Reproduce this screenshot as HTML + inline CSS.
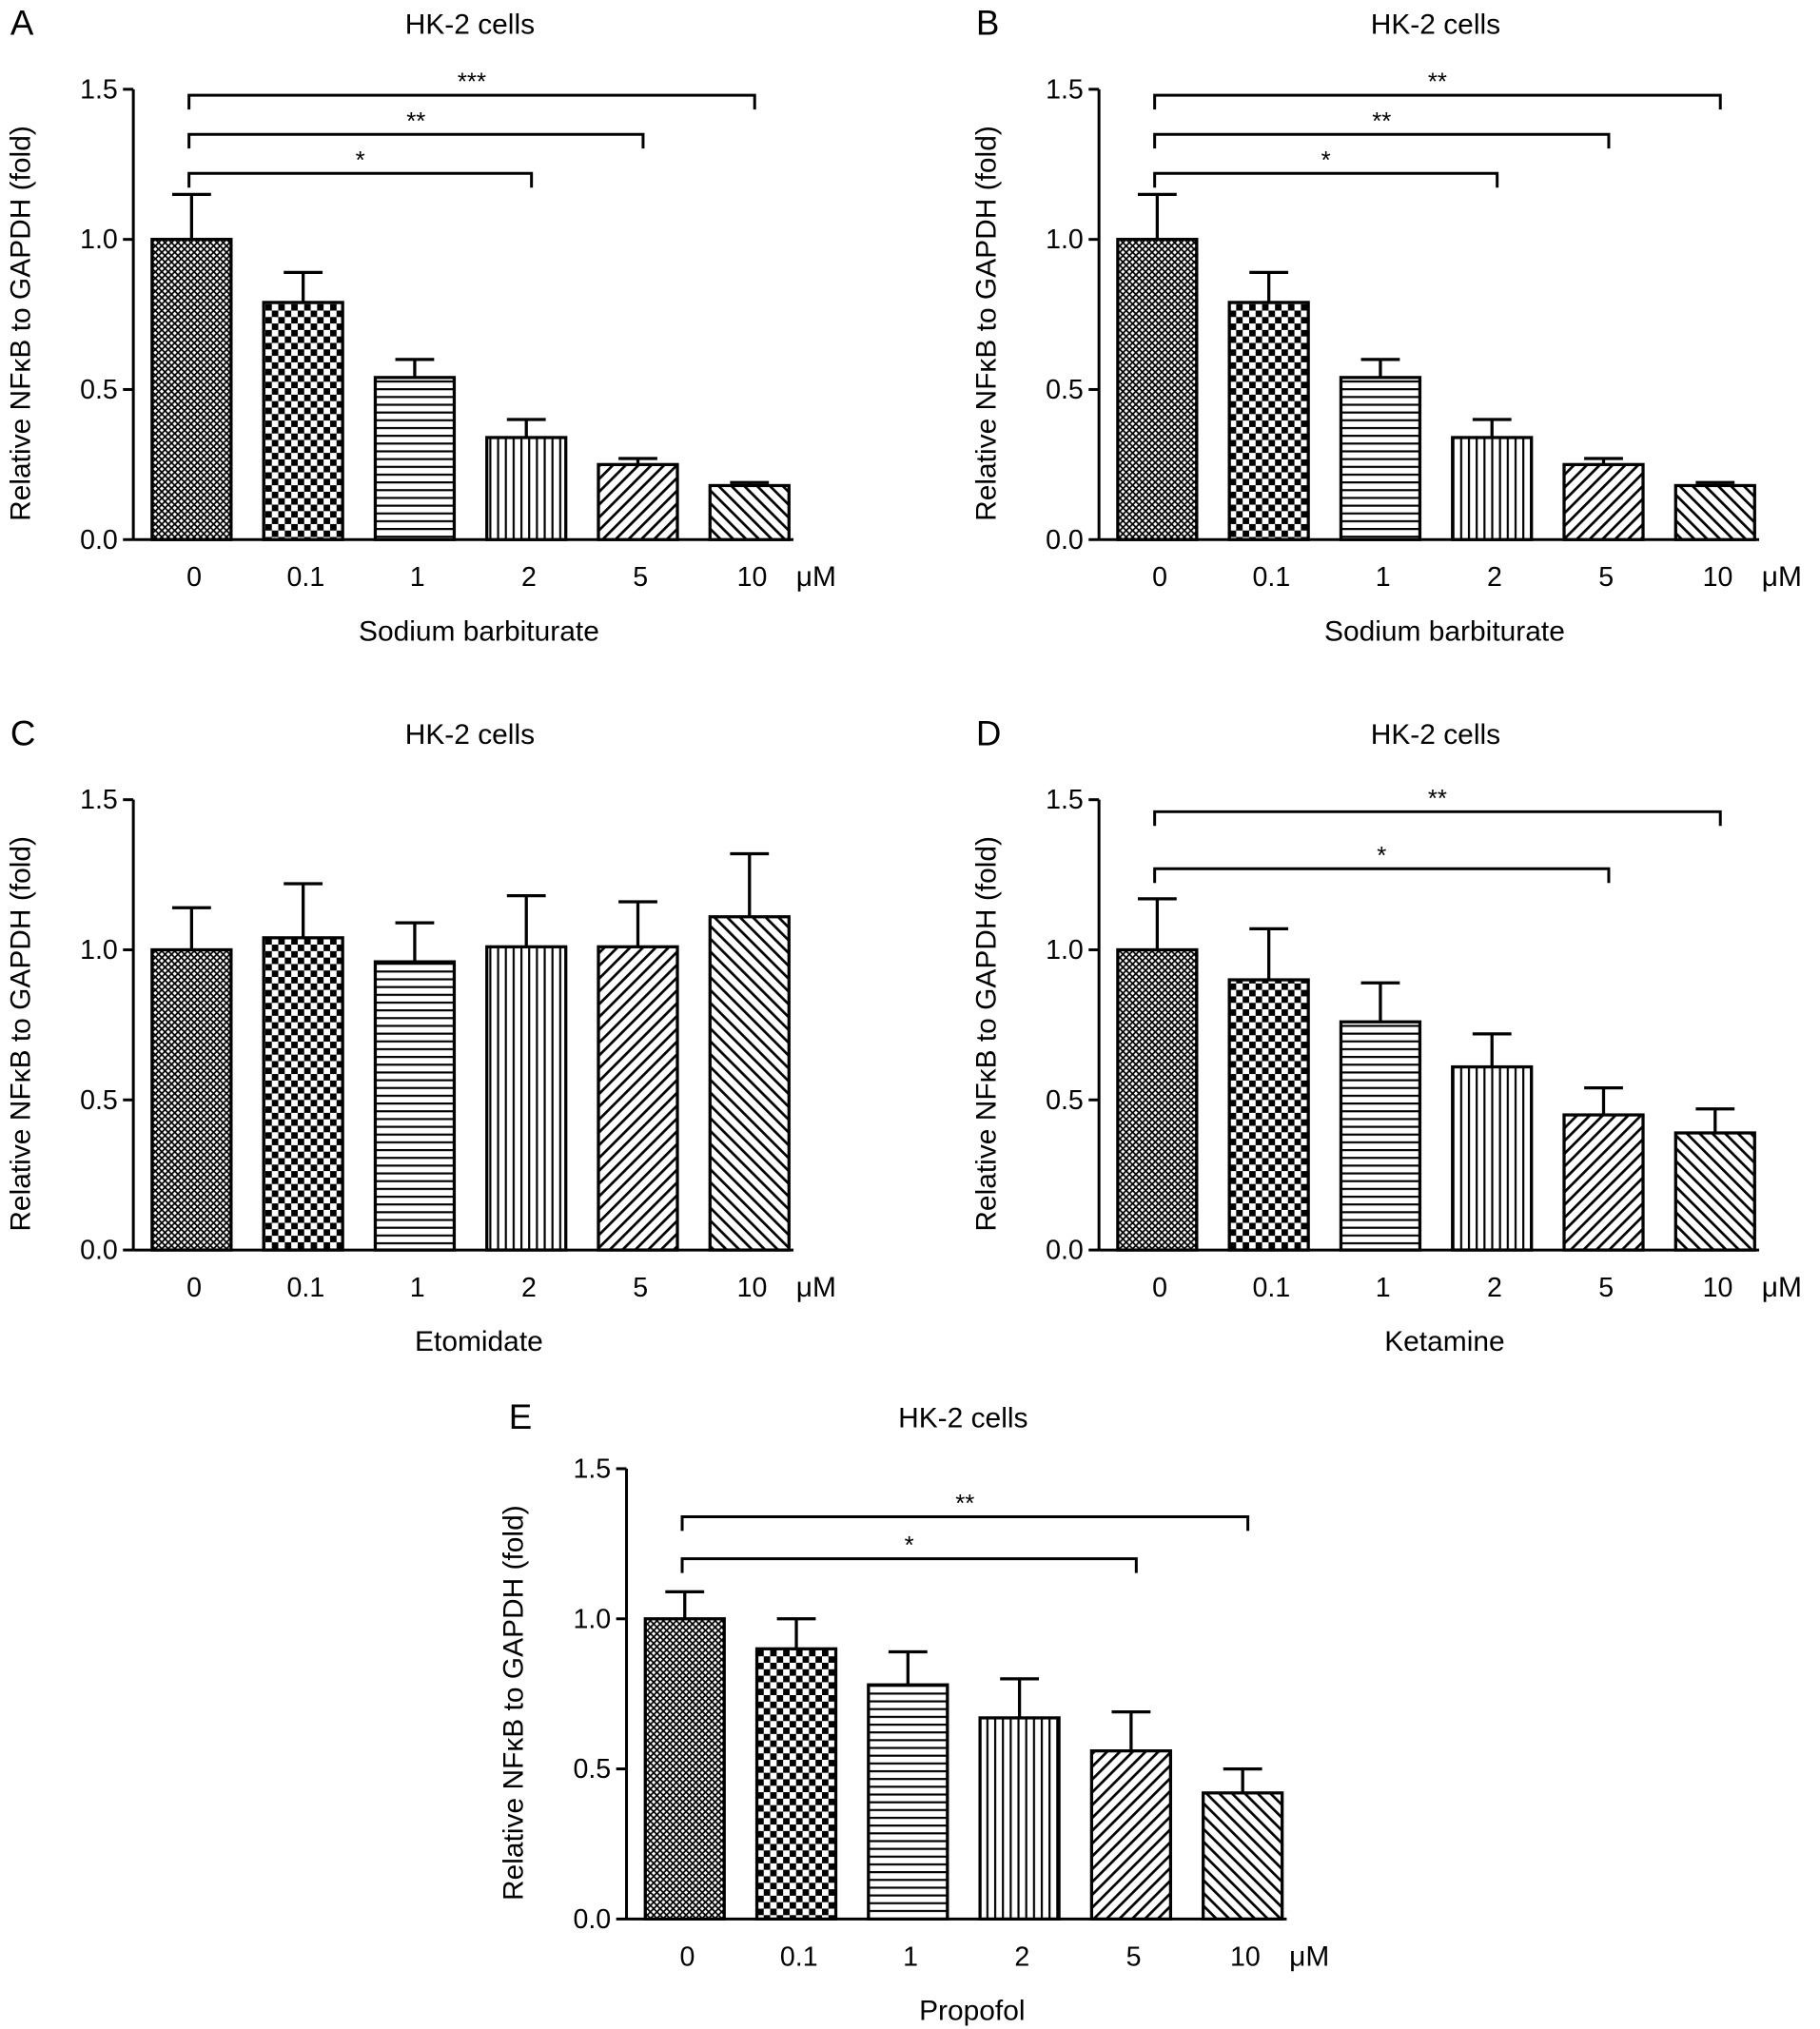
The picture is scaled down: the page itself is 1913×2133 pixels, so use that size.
<!DOCTYPE html>
<html><head><meta charset="utf-8"><style>
html,body{margin:0;padding:0;background:#fff;}
svg{display:block;font-family:"Liberation Sans",Arial,sans-serif;}
</style></head><body>
<svg id="fig" width="1913" height="2133" viewBox="0 0 1406 1568" preserveAspectRatio="none" xmlns="http://www.w3.org/2000/svg">
<defs>
<pattern id="p0" width="5" height="5" patternUnits="userSpaceOnUse"><rect width="5" height="5" fill="#fff"/><path d="M0,0L5,5M5,0L0,5" stroke="#000" stroke-width="1.3"/></pattern>
<pattern id="p1" width="10" height="10" patternUnits="userSpaceOnUse"><rect width="10" height="10" fill="#fff"/><rect width="5" height="5" fill="#000"/><rect x="5" y="5" width="5" height="5" fill="#000"/></pattern>
<pattern id="p2" width="6" height="6" patternUnits="userSpaceOnUse"><rect width="6" height="6" fill="#fff"/><rect y="0" width="6" height="1.6" fill="#000"/></pattern>
<pattern id="p3" width="6" height="6" patternUnits="userSpaceOnUse"><rect width="6" height="6" fill="#fff"/><rect x="0" width="1.6" height="6" fill="#000"/></pattern>
<pattern id="p4" width="7" height="7" patternUnits="userSpaceOnUse" patternTransform="rotate(45)"><rect width="7" height="7" fill="#fff"/><rect width="2" height="7" fill="#000"/></pattern>
<pattern id="p5" width="7" height="7" patternUnits="userSpaceOnUse" patternTransform="rotate(-45)"><rect width="7" height="7" fill="#fff"/><rect width="2" height="7" fill="#000"/></pattern>
</defs>
</svg>
<script>
const categories = ["0","0.1","1","2","5","10"];
const yTicks = [0, 0.5, 1.0, 1.5];
const yTickLabels = ["0.0","0.5","1.0","1.5"];
const valsA = [1.0,0.79,0.54,0.34,0.25,0.18];
const errA  = [0.15,0.10,0.06,0.06,0.02,0.01];
const valsB = [1.0,0.79,0.54,0.34,0.25,0.18];
const errB  = [0.15,0.10,0.06,0.06,0.02,0.01];
const valsC = [1.0,1.04,0.96,1.01,1.01,1.11];
const errC  = [0.14,0.18,0.13,0.17,0.15,0.21];
const valsD = [1.0,0.90,0.76,0.61,0.45,0.39];
const errD  = [0.17,0.17,0.13,0.11,0.09,0.08];
const valsE = [1.0,0.90,0.78,0.67,0.56,0.42];
const errE  = [0.09,0.10,0.11,0.13,0.13,0.08];
const sigA = [[3,1.22,"*"],[4,1.35,"**"],[5,1.48,"***"]];
const sigB = [[3,1.22,"*"],[4,1.35,"**"],[5,1.48,"**"]];
const sigC = [];
const sigD = [[4,1.27,"*"],[5,1.46,"**"]];
const sigE = [[4,1.20,"*"],[5,1.34,"**"]];

const NS="http://www.w3.org/2000/svg";
const svg=document.getElementById('fig');
function mk(tag,attrs,parent,text){const e=document.createElementNS(NS,tag);for(const k in attrs)e.setAttribute(k,attrs[k]);if(text!==undefined)e.textContent=text;parent.appendChild(e);return e;}

function panel(letter,ax,y0,vals,errs,sigs,xlabel,titleDy){
  const g=mk('g',{},svg);
  
  
  const unit=232;
  const Y=v=>y0-v*unit;
  const X=i=>ax+45+i*86.2;
  const bw=61;
  const t=mk('text',{x:letter==='E'?393:ax-95,y:y0-388+titleDy,'font-size':27},g,letter);
  
  const ti=mk('text',{x:ax+260,y:y0-389+titleDy,'font-size':22,'text-anchor':'middle'},g,'HK-2 cells');
  
  const ya=mk('line',{x1:ax,y1:Y(0),x2:ax,y2:Y(1.5),stroke:'#000','stroke-width':2.2},g);
  
  yTicks.forEach((v,i)=>{
    mk('line',{x1:ax-8,y1:Y(v),x2:ax,y2:Y(v),stroke:'#000','stroke-width':2.2},g);
    const tl=mk('text',{x:ax-12,y:Y(v)+7,'font-size':21,'text-anchor':'end'},g,yTickLabels[i]);
    
  });
  const xa=mk('line',{x1:ax,y1:Y(0),x2:ax+510,y2:Y(0),stroke:'#000','stroke-width':2.2},g);
  
  const yl=mk('text',{x:0,y:0,'font-size':22,'text-anchor':'middle',transform:`translate(${ax-80},${Y(0.72)}) rotate(-90)`},g,'Relative NFκB to GAPDH (fold)');
  
  vals.forEach((v,i)=>{
    const cx=X(i);
    const e=mk('path',{d:`M${cx},${Y(v)}V${Y(v+errs[i])}M${cx-15},${Y(v+errs[i])}H${cx+15}`,stroke:'#000','stroke-width':2.4,fill:'none'},g);
    
    const b=mk('rect',{x:cx-bw/2,y:Y(v),width:bw,height:v*unit,fill:`url(#p${i})`,stroke:'#000','stroke-width':2.4},g);
    
    const xl=mk('text',{x:cx+2,y:Y(0)+36,'font-size':21,'text-anchor':'middle'},g,categories[i]);
    
  });
  const u=mk('text',{x:ax+512,y:Y(0)+36,'font-size':22},g,'μM');
  
  const xt=mk('text',{x:ax+267,y:Y(0)+78,'font-size':22,'text-anchor':'middle'},g,xlabel);
  
  sigs.forEach(s=>{
    const x1=X(0)-2,x2=X(s[0])+4,y=Y(s[1]);
    const br=mk('path',{d:`M${x1},${y+11}V${y}H${x2}V${y+11}`,stroke:'#000','stroke-width':2.2,fill:'none'},g);
    
    const st=mk('text',{x:(x1+x2)/2,y:y-4,'font-size':19,'text-anchor':'middle'},g,s[2]);
    
  });
}
panel('A',103,417,valsA,errA,sigA,'Sodium barbiturate',-2);
panel('B',849,417,valsB,errB,sigB,'Sodium barbiturate',-2);
panel('C',103,966,valsC,errC,sigC,'Etomidate',-2);
panel('D',849,966,valsD,errD,sigD,'Ketamine',-2);
panel('E',484,1483,valsE,errE,sigE,'Propofol',9);
</script>
</body></html>
